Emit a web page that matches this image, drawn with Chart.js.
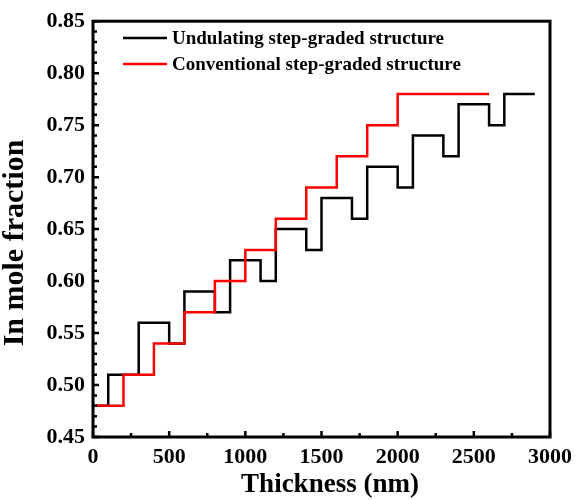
<!DOCTYPE html>
<html>
<head>
<meta charset="utf-8">
<script src="https://cdn.jsdelivr.net/npm/chart.js@4/dist/chart.umd.min.js"></script>
<style>
  html, body { margin: 0; padding: 0; background: #fff; }
  #wrap { width: 579px; height: 500px; }
</style>
</head>
<body>
<div id="wrap"><canvas id="stepChart" width="579" height="500"></canvas></div>
<script>
// layer boundaries (nm) and In content of each layer, last value repeated to close the step
const undulatingX = [0, 100, 300, 500, 600, 800, 900, 1100, 1200, 1400, 1500, 1700, 1800, 2000, 2100, 2300, 2400, 2600, 2700, 2900];
const undulatingY = [0.48, 0.51, 0.56, 0.54, 0.59, 0.57, 0.62, 0.60, 0.65, 0.63, 0.68, 0.66, 0.71, 0.69, 0.74, 0.72, 0.77, 0.75, 0.78, 0.78];
const conventionalX = [0, 200, 400, 600, 800, 1000, 1200, 1400, 1600, 1800, 2000, 2600];
const conventionalY = [0.48, 0.51, 0.54, 0.57, 0.60, 0.63, 0.66, 0.69, 0.72, 0.75, 0.78, 0.78];
const seriesNames = ['Undulating step-graded structure', 'Conventional step-graded structure'];
const seriesColors = ['#000000', '#ff0000'];

const xTicks = [0, 500, 1000, 1500, 2000, 2500, 3000];
const yTicks = [0.45, 0.50, 0.55, 0.60, 0.65, 0.70, 0.75, 0.80, 0.85];
const xTitle = 'Thickness (nm)';
const yTitle = 'In mole fraction';

const serif = "'Liberation Serif', 'Times New Roman', serif";

function toPoints(xs, ys) {
  return xs.map((x, i) => ({ x: x, y: ys[i] }));
}

// frame, inward ticks, axis titles and the legend inside the plot
const framePlugin = {
  id: 'frame',
  afterDraw(chart) {
    const ctx = chart.ctx;
    const a = chart.chartArea;
    const xs = chart.scales.x;
    const ys = chart.scales.y;
    ctx.save();
    ctx.strokeStyle = '#000';
    ctx.lineWidth = 3;
    ctx.strokeRect(a.left, a.top, a.right - a.left, a.bottom - a.top);

    ctx.lineWidth = 2.5;
    ctx.beginPath();
    for (let v = 0; v <= 3000; v += 250) {
      const px = xs.getPixelForValue(v);
      const len = v % 500 === 0 ? 6 : 4;
      ctx.moveTo(px, a.bottom);
      ctx.lineTo(px, a.bottom - len);
    }
    for (let i = 45; i <= 85; i++) {
      const py = ys.getPixelForValue(i / 100);
      const len = i % 5 === 0 ? 6 : 4;
      ctx.moveTo(a.left, py);
      ctx.lineTo(a.left + len, py);
    }
    ctx.stroke();

    ctx.fillStyle = '#000';
    ctx.textAlign = 'center';
    ctx.textBaseline = 'middle';
    ctx.font = 'bold 27px ' + serif;
    ctx.fillText(xTitle, 330, 485);
    ctx.save();
    ctx.translate(15, 243);
    ctx.rotate(-Math.PI / 2);
    ctx.font = 'bold 30px ' + serif;
    ctx.fillText(yTitle, 0, 0);
    ctx.restore();

    ctx.textAlign = 'left';
    ctx.font = 'bold 19px ' + serif;
    seriesNames.forEach((name, i) => {
      const y = 38 + i * 26;
      ctx.strokeStyle = seriesColors[i];
      ctx.lineWidth = 2.5;
      ctx.beginPath();
      ctx.moveTo(123, y);
      ctx.lineTo(167, y);
      ctx.stroke();
      ctx.fillText(name, 172, y + 1);
    });
    ctx.restore();
  }
};

new Chart(document.getElementById('stepChart'), {
  type: 'line',
  data: {
    datasets: [{
      label: seriesNames[0],
      data: toPoints(undulatingX, undulatingY),
      borderColor: seriesColors[0],
      borderWidth: 2.5,
      stepped: 'before',
      pointRadius: 0,
      fill: false,
      order: 2
    }, {
      label: seriesNames[1],
      data: toPoints(conventionalX, conventionalY),
      borderColor: seriesColors[1],
      borderWidth: 2.5,
      stepped: 'before',
      pointRadius: 0,
      fill: false,
      order: 1
    }]
  },
  options: {
    responsive: false,
    animation: false,
    layout: { padding: { top: 18, right: 23, left: 0, bottom: 0 } },
    plugins: {
      legend: { display: false },
      tooltip: { enabled: false }
    },
    scales: {
      x: {
        type: 'linear',
        min: 0,
        max: 3000,
        afterBuildTicks: (s) => { s.ticks = xTicks.map(v => ({ value: v })); },
        afterFit: (s) => { s.height = 63; },
        grid: { display: false, drawTicks: false },
        border: { display: false },
        ticks: {
          color: '#000',
          padding: 7,
          maxRotation: 0,
          callback: (v) => String(v),
          font: { family: serif, size: 22, weight: 'bold' }
        }
      },
      y: {
        type: 'linear',
        min: 0.45,
        max: 0.85,
        afterBuildTicks: (s) => { s.ticks = yTicks.map(v => ({ value: v })); },
        afterFit: (s) => { s.width = 93; },
        grid: { display: false, drawTicks: false },
        border: { display: false },
        ticks: {
          color: '#000',
          padding: 8,
          callback: (v) => v.toFixed(2),
          font: { family: serif, size: 22, weight: 'bold' }
        }
      }
    }
  },
  plugins: [framePlugin]
});
</script>
</body>
</html>
